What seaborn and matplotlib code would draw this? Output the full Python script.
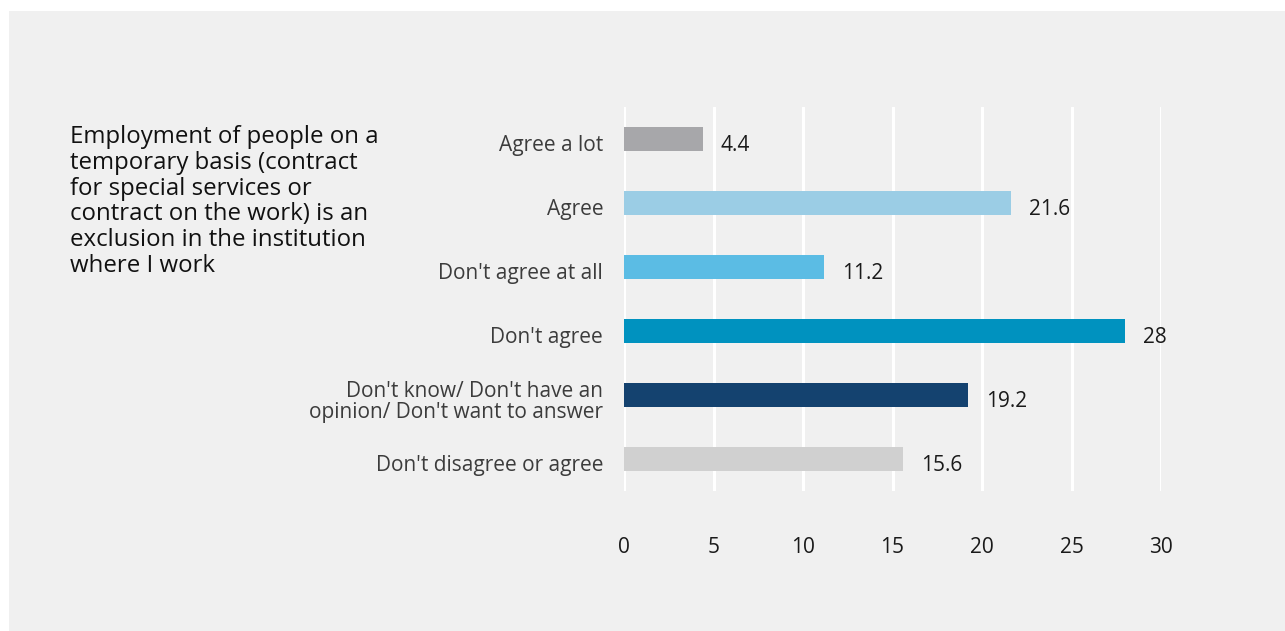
import matplotlib
matplotlib.use("Agg")
import matplotlib.pyplot as plt
import matplotlib.transforms as mtransforms
from matplotlib.patches import Rectangle
import seaborn as sns
import pandas as pd

# Survey responses (percent)
categories = [
    "Agree a lot",
    "Agree",
    "Don't agree at all",
    "Don't agree",
    "Don't know/ Don't have an\nopinion/ Don't want to answer",
    "Don't disagree or agree",
]
values = [4.4, 21.6, 11.2, 28, 19.2, 15.6]
value_labels = ["4.4", "21.6", "11.2", "28", "19.2", "15.6"]
colors = ["#a7a7aa", "#9bcde5", "#5bbce4", "#0092bf", "#14426f", "#d0d0d0"]
x_ticks = [0, 5, 10, 15, 20, 25, 30]
title = ("Employment of people on a\ntemporary basis (contract\nfor special services or\n"
         "contract on the work) is an\nexclusion in the institution\nwhere I work")

sns.set_theme(style="white")
plt.rcParams["font.family"] = ["Open Sans", "DejaVu Sans"]

W, H = 1285, 631
bg = "#f0f0f0"
fig = plt.figure(figsize=(W / 100, H / 100), dpi=100, facecolor="white")
fig.patches.append(Rectangle((9 / W, 0), 1 - 9 / W, 1 - 11 / H,
                             transform=fig.transFigure, facecolor=bg,
                             edgecolor="none", zorder=-10))

ax = fig.add_axes([624 / W, 1 - 491 / H, (1161 - 624) / W, (491 - 107) / H])
ax.set_facecolor(bg)

df = pd.DataFrame({"category": categories, "value": values})
sns.barplot(data=df, x="value", y="category", hue="category",
            palette=colors, orient="h", width=0.36, legend=False,
            saturation=1, linewidth=0, ax=ax, zorder=3)

ax.set_xlim(0, 30)
ax.set_ylim(len(categories) - 0.5, -0.5)
ax.set_xticks(x_ticks)
ax.set_xticklabels([str(t) for t in x_ticks])
ax.grid(axis="x", color="white", linewidth=2.2, zorder=0)
ax.grid(axis="y", visible=False)
ax.set_axisbelow(True)
for s in ax.spines.values():
    s.set_visible(False)
ax.set_xlabel("")
ax.set_ylabel("")
ax.tick_params(axis="x", length=0, pad=33, labelsize=15, labelcolor="#1a1a1a")
ax.tick_params(axis="y", length=0, pad=15, labelsize=15, labelcolor="#3c3c3c")

# nudge the category labels slightly downward
shift = mtransforms.ScaledTranslation(0, -3 / 72, fig.dpi_scale_trans)
for lbl in ax.get_yticklabels():
    lbl.set_horizontalalignment("right")
    lbl.set_multialignment("right")
    lbl.set_linespacing(1.0)
    lbl.set_transform(lbl.get_transform() + shift)

for i, (v, t) in enumerate(zip(values, value_labels)):
    ax.annotate(t, xy=(v, i), xytext=(13, -5), textcoords="offset points",
                ha="left", va="center", fontsize=15, color="#1a1a1a",
                annotation_clip=False)

fig.text(70 / W, 1 - 125 / H, title, ha="left", va="top", fontsize=17.3,
         color="#111111", linespacing=1.1)

fig.savefig("out.png", dpi=100, facecolor="white")
